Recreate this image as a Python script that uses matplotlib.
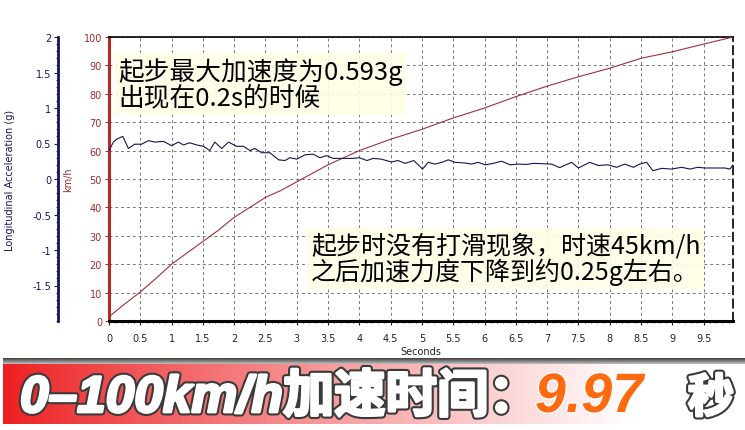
import matplotlib
matplotlib.use("Agg")
import matplotlib.pyplot as plt
import matplotlib.patheffects as pe
import numpy as np
from matplotlib.ticker import MultipleLocator

# speed trace (km/h)
speed_t = [0, 0.25, 0.5, 0.75, 1.0, 1.25, 1.5, 1.75, 2.0, 2.25, 2.5, 2.75, 3.0,
           3.25, 3.5, 3.75, 4.0, 4.5, 5.0, 5.5, 6.0, 6.5, 7.0, 7.5, 8.0, 8.5,
           9.0, 9.5, 9.97]
speed_kmh = [1.5, 6, 10.2, 15, 20, 24, 28, 32, 36.5, 40, 43.5, 46, 49,
             52, 55, 57.5, 60, 64, 67.5, 71.5, 75, 79, 82.7, 86, 89, 92.5,
             94.8, 97.5, 100]

# longitudinal acceleration (g)
accel_t = [0.0, 0.07, 0.12, 0.22, 0.31, 0.41, 0.52, 0.63, 0.73, 0.87, 1.0,
           1.11, 1.19, 1.29, 1.40, 1.51, 1.61, 1.69, 1.80, 1.91, 2.04, 2.15,
           2.25, 2.33, 2.44, 2.57, 2.71, 2.81, 2.89, 3.0, 3.13, 3.26, 3.37,
           3.48, 3.58, 3.74, 3.90, 4.0, 4.12, 4.22, 4.35, 4.51, 4.62, 4.73,
           4.87, 5.01, 5.10, 5.21, 5.32, 5.42, 5.53, 5.69, 5.79, 5.90, 6.01,
           6.14, 6.27, 6.41, 6.54, 6.67, 6.78, 6.94, 7.07, 7.2, 7.39, 7.50,
           7.68, 7.82, 7.97, 8.11, 8.24, 8.38, 8.48, 8.59, 8.69, 8.83, 8.99,
           9.15, 9.28, 9.41, 9.52, 9.84, 9.92, 9.97]
accel_g = [0.40, 0.52, 0.56, 0.60, 0.43, 0.49, 0.49, 0.54, 0.52, 0.53, 0.47,
           0.52, 0.48, 0.51, 0.48, 0.46, 0.40, 0.52, 0.43, 0.52, 0.46, 0.46,
           0.40, 0.43, 0.37, 0.37, 0.27, 0.26, 0.30, 0.28, 0.34, 0.35, 0.30,
           0.33, 0.29, 0.29, 0.29, 0.30, 0.26, 0.29, 0.28, 0.24, 0.26, 0.22,
           0.26, 0.14, 0.235, 0.21, 0.235, 0.27, 0.235, 0.225, 0.21, 0.235, 0.20,
           0.22, 0.25, 0.20, 0.21, 0.205, 0.22, 0.215, 0.21, 0.16, 0.235, 0.155,
           0.235, 0.19, 0.20, 0.165, 0.21, 0.165, 0.21, 0.235, 0.117, 0.15, 0.14,
           0.165, 0.14, 0.165, 0.155, 0.155, 0.14, 0.20]

x_ticks = [0, 0.5, 1, 1.5, 2, 2.5, 3, 3.5, 4, 4.5, 5, 5.5, 6, 6.5, 7, 7.5,
           8, 8.5, 9, 9.5]
x_labels = ["0", "0.5", "1", "1.5", "2", "2.5", "3", "3.5", "4", "4.5", "5",
            "5.5", "6", "6.5", "7", "7.5", "8", "8.5", "9", "9.5"]
accel_ticks = [-1.5, -1, -0.5, 0, 0.5, 1, 1.5, 2]

note_top = "起步最大加速度为0.593g\n出现在0.2s的时候"
note_mid = "起步时没有打滑现象，时速45km/h\n之后加速力度下降到约0.25g左右。"
banner_main = "0–100km/h加速时间："
banner_time = "9.97"
banner_unit = "秒"

W, H = 745, 431
SPEED_RED = "#9b2d2d"
NAVY = "#14145a"
CJK = ["Noto Sans CJK SC", "DejaVu Sans"]


def fx(px):
  return px / W


def fy(py):
  return 1 - py / H


fig = plt.figure(figsize=(W / 100, H / 100), dpi=100)
fig.patch.set_facecolor("white")

ax = fig.add_axes([fx(109), fy(322), fx(733 - 109), (322 - 38) / H])
ax.plot(speed_t, speed_kmh, color="#a0303a", lw=0.8, zorder=3)
ax.set_xlim(0, 9.97)
ax.set_ylim(0, 100)
ax.set_xticks(x_ticks)
ax.set_xticklabels(x_labels)
ax.xaxis.set_minor_locator(MultipleLocator(0.1))
ax.set_yticks(range(0, 101, 10))
ax.yaxis.set_minor_locator(MultipleLocator(2))
ax.grid(True, which="major", color="#777777", ls=(0, (3, 3)), lw=0.7)
ax.tick_params(axis="x", labelsize=7, colors="#222222", length=3, pad=6)
ax.tick_params(axis="x", which="minor", length=1.5, colors="#222222")
ax.tick_params(axis="y", labelsize=7, colors=SPEED_RED, length=3, pad=2)
ax.tick_params(axis="y", which="minor", length=0)
ax.spines["left"].set_color("#b22a2a")
ax.spines["left"].set_linewidth(2.2)
ax.spines["bottom"].set_linewidth(2.2)
ax.spines["top"].set_linewidth(1.2)
ax.spines["right"].set_linestyle((0, (5, 3)))
ax.spines["right"].set_linewidth(1.2)
ax.set_ylabel("km/h", fontsize=7, color=SPEED_RED, labelpad=6)
ax.yaxis.set_label_coords(fx(73 - 109) / fx(624), 0.5)
ax.set_xlabel("Seconds", fontsize=7, color="#222222", labelpad=2)

ax2 = ax.twinx()
ax2.plot(accel_t, accel_g, color=NAVY, lw=0.8, zorder=3)
ax2.set_ylim(-2, 2)
ax2.yaxis.set_ticks_position("left")
ax2.yaxis.set_label_position("left")
ax2.spines["left"].set_position(("axes", (58 - 109) / 624))
ax2.spines["left"].set_color(NAVY)
ax2.spines["left"].set_linewidth(2.0)
for s in ("right", "top", "bottom"):
  ax2.spines[s].set_visible(False)
ax2.set_yticks(accel_ticks)
ax2.set_yticklabels([f"{v:g}" for v in accel_ticks])
ax2.yaxis.set_minor_locator(MultipleLocator(0.1))
ax2.tick_params(axis="y", labelsize=7, colors=NAVY, length=3, pad=2)
ax2.tick_params(axis="y", which="minor", length=1.5, colors=NAVY)
ax2.set_ylabel("Longitudinal Acceleration (g)", fontsize=7, color=NAVY)
ax2.yaxis.set_label_coords((15 - 109) / 624, 0.5)

box = dict(boxstyle="square,pad=0.15", facecolor="#fffde6", edgecolor="none",
           alpha=0.9)
fig.text(fx(118), fy(58), note_top, fontsize=18.5, family=CJK, va="top",
         ha="left", linespacing=1.0, color="black", bbox=box, zorder=10)
fig.text(fx(311), fy(233), note_mid, fontsize=18, family=CJK, va="top",
         ha="left", linespacing=1.0, color="black", bbox=box, zorder=10)

# banner with red-to-white gradient
bax = fig.add_axes([0, fy(427), 1, (427 - 358) / H])
bax.set_xlim(0, 1)
bax.set_ylim(0, 1)
bax.axis("off")
n = 400
s = np.clip(np.linspace(0, 1, n) / 0.85, 0, 1) ** 0.9
red = np.array([0.93, 0.12, 0.13])
white = np.array([1.0, 1.0, 1.0])
grad = red[None, :] * (1 - s[:, None]) + white[None, :] * s[:, None]
bax.imshow(grad[None, :, :], extent=[0.004, 1, 0.03, 0.9], aspect="auto",
           zorder=1)
shade = np.linspace(0.25, 0.75, 20)[:, None, None] * np.ones((20, 1, 3))
bax.imshow(shade, extent=[0.004, 1, 0.9, 0.98], aspect="auto", zorder=1)

heavy = [pe.Stroke(linewidth=5, foreground="#3a3a3a"),
         pe.Stroke(linewidth=2, foreground="white"), pe.Normal()]
bfont = ["Liberation Sans", "Noto Sans CJK SC"]
fig.text(fx(20), fy(413), banner_main, fontsize=37, family=bfont,
         weight="bold", style="italic", color="white", va="baseline",
         path_effects=heavy)
fig.text(fx(535), fy(413), banner_time, fontsize=40, family=bfont,
         weight="bold", style="italic", color="#ff6a10", va="baseline",
         path_effects=[pe.Stroke(linewidth=2, foreground="#ffffff"),
                       pe.Normal()])
fig.text(fx(688), fy(413), banner_unit, fontsize=33, family=bfont,
         weight="bold", color="white", va="baseline",
         path_effects=heavy)

fig.savefig("out.png", dpi=100)
